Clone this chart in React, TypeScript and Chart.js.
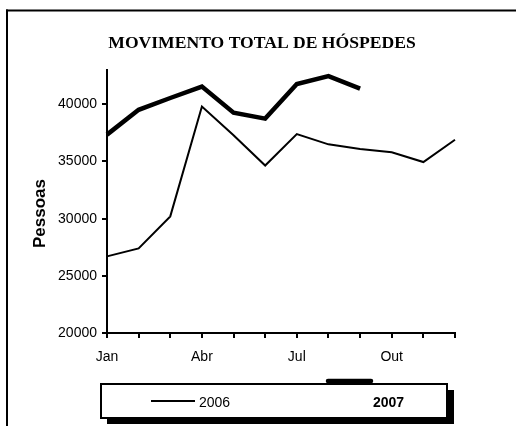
import React, { useEffect, useRef } from 'react';
import { Chart, registerables } from 'chart.js';

Chart.register(...registerables);

const MONTHS = ['Jan', 'Fev', 'Mar', 'Abr', 'Mai', 'Jun', 'Jul', 'Ago', 'Set', 'Out', 'Nov', 'Dez'];
const SERIES_2006 = [26700, 27400, 30200, 39800, 37300, 34650, 37400, 36500, 36100, 35800, 34950, 36900];
const SERIES_2007 = [37350, 39520, 40550, 41550, 39270, 38750, 41780, 42470, 41370, null, null, null];
const Y_TICKS = [20000, 25000, 30000, 35000, 40000];
const TITLE = 'MOVIMENTO TOTAL DE HÓSPEDES';
const Y_TITLE = 'Pessoas';
const LABEL_2006 = '2006';
const LABEL_2007 = '2007';

const W = 516;
const H = 426;

const overlay = {
  id: 'overlay',
  beforeDraw(chart: any) {
    const ctx = chart.ctx;
    ctx.save();
    ctx.fillStyle = '#ffffff';
    ctx.fillRect(0, 0, W, H);
    ctx.fillStyle = '#000000';
    ctx.fillRect(6, 9.5, 2, H);
    ctx.fillRect(6, 9.5, W, 2);
    ctx.restore();
  },
  afterDraw(chart: any) {
    const ctx = chart.ctx;
    const ds = chart.data.datasets;
    ctx.save();
    // title
    ctx.fillStyle = '#000';
    ctx.font = 'bold 17.6px "Liberation Serif", "Times New Roman", serif';
    ctx.textAlign = 'center';
    ctx.textBaseline = 'alphabetic';
    ctx.fillText(TITLE, 262, 48);
    // y axis title
    ctx.save();
    ctx.translate(45, 213.5);
    ctx.rotate(-Math.PI / 2);
    ctx.font = 'bold 17px "Liberation Sans", Arial, sans-serif';
    ctx.textAlign = 'center';
    ctx.textBaseline = 'alphabetic';
    ctx.fillText(Y_TITLE, 0, 0);
    ctx.restore();
    // legend shadow + box
    ctx.fillStyle = '#000';
    ctx.fillRect(107, 390, 347, 34);
    ctx.fillStyle = '#fff';
    ctx.fillRect(101, 384, 346, 34);
    ctx.strokeStyle = '#000';
    ctx.lineWidth = 2;
    ctx.strokeRect(101, 384, 346, 34);
    // 2006 sample
    ctx.beginPath();
    ctx.strokeStyle = ds[0].borderColor;
    ctx.lineWidth = ds[0].borderWidth;
    ctx.moveTo(151, 401);
    ctx.lineTo(195, 401);
    ctx.stroke();
    ctx.fillStyle = '#000';
    ctx.textAlign = 'left';
    ctx.font = '14px "Liberation Sans", Arial, sans-serif';
    ctx.fillText(ds[0].label, 199, 407);
    // 2007 sample (displaced above the box, as in the original)
    ctx.beginPath();
    ctx.strokeStyle = ds[1].borderColor;
    ctx.lineWidth = ds[1].borderWidth;
    ctx.lineCap = 'round';
    ctx.moveTo(328, 381);
    ctx.lineTo(371, 381);
    ctx.stroke();
    ctx.font = 'bold 14px "Liberation Sans", Arial, sans-serif';
    ctx.fillText(ds[1].label, 373, 407);
    ctx.restore();
  },
};

export default function App() {
  const ref = useRef<HTMLCanvasElement | null>(null);

  useEffect(() => {
    if (!ref.current) return;
    Chart.defaults.font.family = '"Liberation Sans", Arial, sans-serif';
    const chart = new Chart(ref.current, {
      type: 'line',
      data: {
        labels: MONTHS,
        datasets: [
          {
            label: LABEL_2006,
            data: SERIES_2006,
            borderColor: '#000000',
            borderWidth: 2,
            pointRadius: 0,
            tension: 0,
            fill: false,
          },
          {
            label: LABEL_2007,
            data: SERIES_2007,
            borderColor: '#000000',
            borderWidth: 4.5,
            pointRadius: 0,
            tension: 0,
            fill: false,
            spanGaps: false,
          },
        ],
      },
      options: {
        responsive: false,
        animation: false,
        devicePixelRatio: 1,
        layout: { padding: { left: 0, top: 70, right: 61, bottom: 0 } },
        plugins: {
          legend: { display: false },
          title: { display: false },
          tooltip: { enabled: false },
        },
        scales: {
          x: {
            type: 'category',
            offset: false,
            grid: {
              display: true,
              drawOnChartArea: false,
              drawTicks: true,
              tickLength: 5,
              color: '#000',
              lineWidth: 2,
              offset: false,
            },
            border: { display: true, color: '#000', width: 2 },
            ticks: {
              autoSkip: false,
              maxRotation: 0,
              minRotation: 0,
              color: '#000',
              font: { size: 14 },
              padding: 11,
              callback: (_v: any, i: number) => (i % 3 === 0 ? MONTHS[i] : ''),
            },
            afterFit: (s: any) => {
              s.height = H - 333;
            },
          },
          y: {
            type: 'linear',
            min: 20000,
            max: 43000,
            grid: {
              display: true,
              drawOnChartArea: false,
              drawTicks: true,
              tickLength: 5,
              color: '#000',
              lineWidth: 2,
            },
            border: { display: true, color: '#000', width: 2 },
            ticks: {
              color: '#000',
              font: { size: 14 },
              padding: 5,
              includeBounds: false,
              callback: (v: any) => String(v),
            },
            afterBuildTicks: (s: any) => {
              s.ticks = Y_TICKS.map((value) => ({ value }));
            },
            afterFit: (s: any) => {
              s.width = 107;
            },
          },
        },
      },
      plugins: [overlay],
    });
    return () => chart.destroy();
  }, []);

  return (
    <div style={{ position: 'fixed', left: 0, top: 0, width: W, height: H, background: '#fff' }}>
      <canvas ref={ref} width={W} height={H} style={{ display: 'block', width: W, height: H }} />
    </div>
  );
}
